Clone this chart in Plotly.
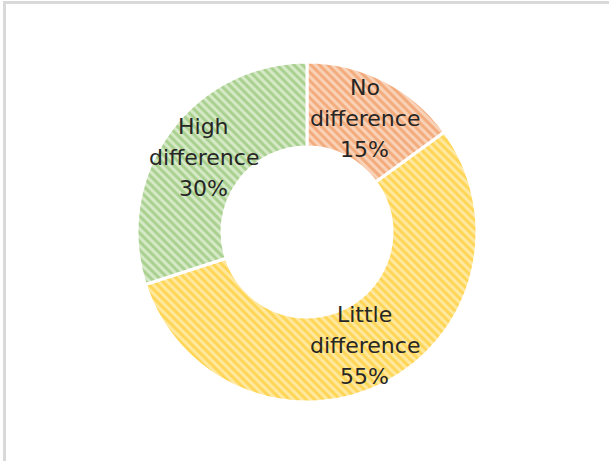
import math
import plotly.graph_objects as go

categories = ["No difference", "Little difference", "High difference"]
label_lines = [["No", "difference"], ["Little", "difference"], ["High", "difference"]]
values = [15, 55, 30]
bg_colors = ["#F9D3B9", "#FFE9A0", "#D6EAC8"]
fg_colors = ["#EE8440", "#FFC20A", "#7CB656"]

W, H = 609, 461
cx, cy, R = 307, 232, 170  # pixel centre / outer radius
hole = 0.5

fig = go.Figure(go.Pie(
    labels=categories,
    values=values,
    sort=False,
    direction="clockwise",
    rotation=0,
    hole=hole,
    textinfo="none",
    hoverinfo="label+percent",
    marker=dict(
        colors=bg_colors,
        line=dict(color="white", width=3),
        pattern=dict(shape="\\", fgcolor=fg_colors, bgcolor=bg_colors,
                     size=6, solidity=0.5, fillmode="overlay"),
    ),
    domain=dict(x=[(cx - R) / W, (cx + R) / W],
                y=[(H - cy - R) / H, (H - cy + R) / H]),
    showlegend=False,
))

total = sum(values)
cum = 0
r_lab = 0.75 * R
line_gap = 31
for lines, v in zip(label_lines, values):
    mid = (cum + v / 2) / total * 2 * math.pi
    cum += v
    px = cx + r_lab * math.sin(mid)
    py = cy - r_lab * math.cos(mid)
    all_lines = lines + [f"{round(v / total * 100)}%"]
    n = len(all_lines)
    for i, t in enumerate(all_lines):
        off = (i - (n - 1) / 2) * line_gap
        fig.add_annotation(
            x=px / W, y=(H - (py + off)) / H, xref="paper", yref="paper",
            text=t, showarrow=False, xanchor="center", yanchor="middle",
            font=dict(family="DejaVu Sans", size=22, color="#262626"),
        )

fig.add_shape(type="rect", xref="paper", yref="paper",
              x0=4.5 / W, y0=-0.05, x1=1.05, y1=(H - 2.5) / H,
              line=dict(color="#D9D9D9", width=3), fillcolor="rgba(0,0,0,0)")

fig.update_layout(
    width=W, height=H,
    margin=dict(l=0, r=0, t=0, b=0),
    paper_bgcolor="white",
    plot_bgcolor="white",
)

fig.write_html("out.html")
